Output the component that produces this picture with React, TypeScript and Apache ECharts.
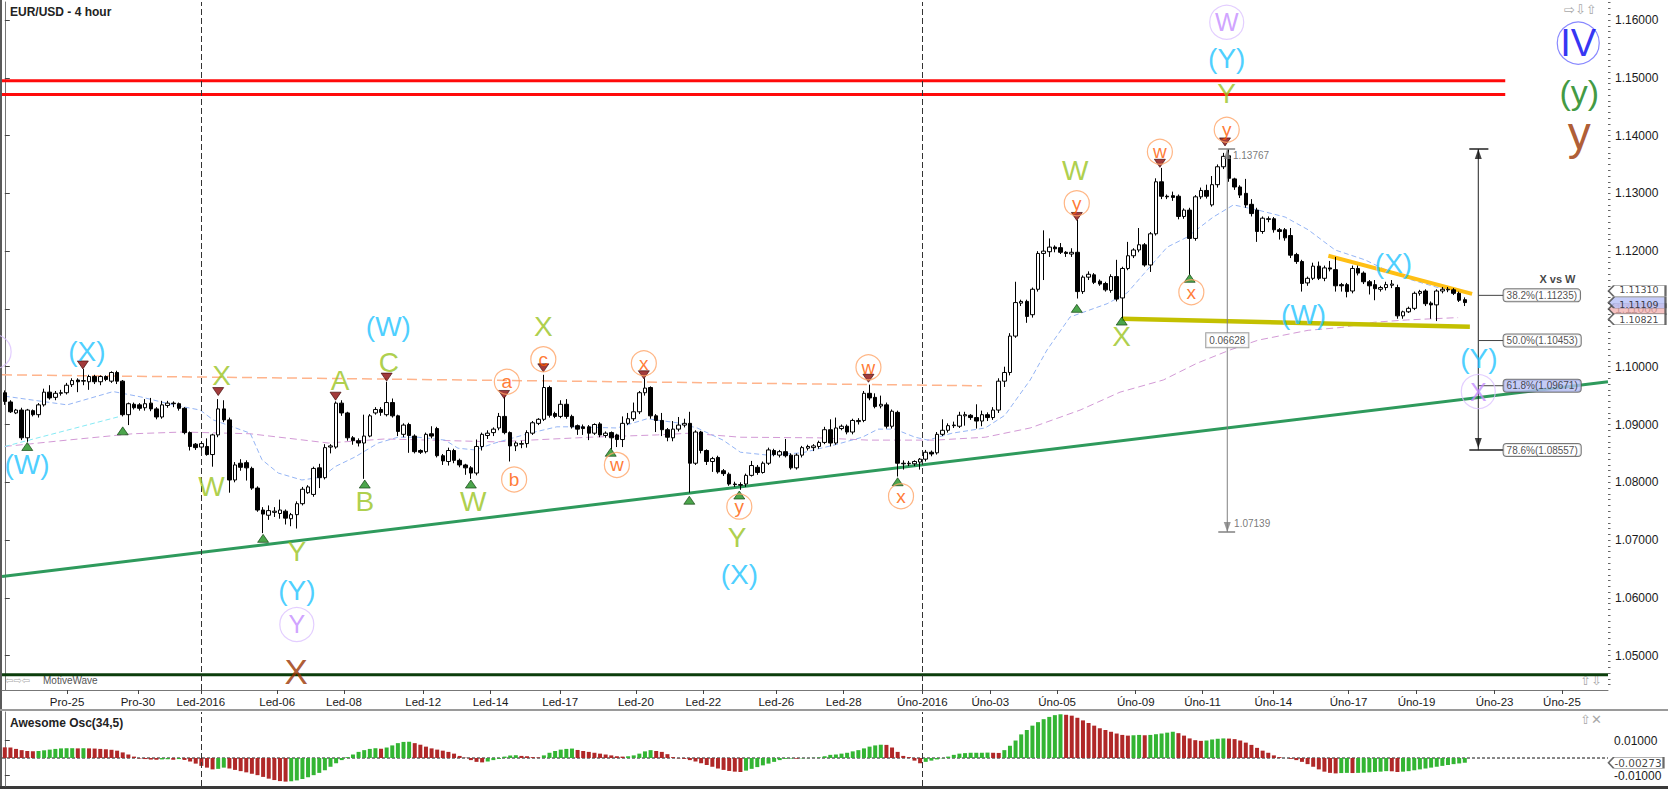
import React, { useEffect, useRef } from "react";
import * as echarts from "echarts";

// ---------- DATA ----------
// candles: [open, close, low, high], one per 4-hour bar
const candles: number[][] = [
  [1.0955, 1.0940, 1.0934, 1.0959], [1.0939, 1.0922, 1.0920, 1.0942], [1.0920, 1.0925, 1.0918, 1.0927], [1.0925, 1.0877, 1.0873, 1.0929], [1.0877, 1.0925, 1.0870, 1.0927],
  [1.0924, 1.0917, 1.0914, 1.0926], [1.0917, 1.0934, 1.0912, 1.0937], [1.0934, 1.0956, 1.0931, 1.0962], [1.0956, 1.0946, 1.0943, 1.0968], [1.0947, 1.0954, 1.0942, 1.0958],
  [1.0954, 1.0955, 1.0950, 1.0960], [1.0955, 1.0968, 1.0952, 1.0972], [1.0969, 1.0976, 1.0965, 1.0980], [1.0977, 1.0974, 1.0956, 1.0980], [1.0975, 1.0976, 1.0968, 1.0996],
  [1.0974, 1.0983, 1.0960, 1.0986], [1.0983, 1.0974, 1.0970, 1.0986], [1.0974, 1.0983, 1.0968, 1.0985], [1.0983, 1.0978, 1.0975, 1.0985], [1.0975, 1.0990, 1.0972, 1.0992],
  [1.0990, 1.0975, 1.0970, 1.0993], [1.0975, 1.0917, 1.0914, 1.0977], [1.0917, 1.0936, 1.0899, 1.0938], [1.0935, 1.0929, 1.0926, 1.0938], [1.0934, 1.0928, 1.0924, 1.0937],
  [1.0929, 1.0936, 1.0924, 1.0944], [1.0937, 1.0927, 1.0923, 1.0946], [1.0927, 1.0913, 1.0909, 1.0930], [1.0913, 1.0934, 1.0910, 1.0941], [1.0933, 1.0937, 1.0929, 1.0941],
  [1.0937, 1.0936, 1.0930, 1.0940], [1.0936, 1.0928, 1.0924, 1.0938], [1.0928, 1.0886, 1.0883, 1.0930], [1.0886, 1.0862, 1.0855, 1.0888], [1.0866, 1.0860, 1.0856, 1.0868],
  [1.0861, 1.0867, 1.0856, 1.0870], [1.0862, 1.0848, 1.0846, 1.0876], [1.0848, 1.0882, 1.0827, 1.0884], [1.0882, 1.0927, 1.0878, 1.0944], [1.0927, 1.0908, 1.0904, 1.0942],
  [1.0908, 1.0804, 1.0782, 1.0912], [1.0804, 1.0830, 1.0800, 1.0835], [1.0833, 1.0826, 1.0820, 1.0840], [1.0834, 1.0825, 1.0803, 1.0838], [1.0824, 1.0790, 1.0787, 1.0827],
  [1.0790, 1.0752, 1.0749, 1.0793], [1.0752, 1.0745, 1.0712, 1.0757], [1.0743, 1.0751, 1.0735, 1.0760], [1.0748, 1.0750, 1.0740, 1.0757], [1.0746, 1.0752, 1.0737, 1.0770],
  [1.0750, 1.0738, 1.0727, 1.0753], [1.0737, 1.0744, 1.0724, 1.0747], [1.0744, 1.0763, 1.0720, 1.0767], [1.0763, 1.0788, 1.0760, 1.0792], [1.0782, 1.0792, 1.0780, 1.0795],
  [1.0779, 1.0824, 1.0775, 1.0827], [1.0825, 1.0808, 1.0790, 1.0832], [1.0808, 1.0860, 1.0805, 1.0866], [1.0861, 1.0863, 1.0850, 1.0866], [1.0861, 1.0937, 1.0858, 1.0940],
  [1.0937, 1.0920, 1.0915, 1.0942], [1.0920, 1.0877, 1.0872, 1.0922], [1.0877, 1.0872, 1.0865, 1.0880], [1.0872, 1.0868, 1.0862, 1.0876], [1.0868, 1.0880, 1.0806, 1.0917],
  [1.0880, 1.0915, 1.0878, 1.0918], [1.0920, 1.0926, 1.0917, 1.0930], [1.0926, 1.0921, 1.0915, 1.0930], [1.0917, 1.0938, 1.0914, 1.0974], [1.0938, 1.0915, 1.0912, 1.0945],
  [1.0915, 1.0888, 1.0880, 1.0917], [1.0883, 1.0899, 1.0878, 1.0902], [1.0900, 1.0881, 1.0851, 1.0903], [1.0880, 1.0853, 1.0850, 1.0883], [1.0855, 1.0852, 1.0849, 1.0857],
  [1.0853, 1.0883, 1.0850, 1.0886], [1.0884, 1.0880, 1.0876, 1.0897], [1.0893, 1.0846, 1.0843, 1.0896], [1.0846, 1.0837, 1.0830, 1.0849], [1.0836, 1.0855, 1.0829, 1.0860],
  [1.0855, 1.0838, 1.0833, 1.0858], [1.0838, 1.0830, 1.0826, 1.0841], [1.0830, 1.0825, 1.0813, 1.0832], [1.0825, 1.0816, 1.0806, 1.0828], [1.0816, 1.0862, 1.0812, 1.0874],
  [1.0862, 1.0883, 1.0855, 1.0886], [1.0881, 1.0885, 1.0875, 1.0890], [1.0886, 1.0892, 1.0880, 1.0895], [1.0894, 1.0914, 1.0890, 1.0920], [1.0914, 1.0886, 1.0883, 1.0948],
  [1.0886, 1.0863, 1.0836, 1.0888], [1.0863, 1.0868, 1.0854, 1.0871], [1.0866, 1.0867, 1.0859, 1.0872], [1.0867, 1.0886, 1.0860, 1.0890], [1.0885, 1.0903, 1.0882, 1.0906],
  [1.0902, 1.0909, 1.0899, 1.0911], [1.0909, 1.0964, 1.0906, 1.0986], [1.0964, 1.0916, 1.0912, 1.0967], [1.0919, 1.0914, 1.0911, 1.0922], [1.0914, 1.0935, 1.0911, 1.0942],
  [1.0935, 1.0914, 1.0910, 1.0944], [1.0914, 1.0896, 1.0893, 1.0917], [1.0898, 1.0892, 1.0882, 1.0900], [1.0896, 1.0893, 1.0882, 1.0900], [1.0896, 1.0885, 1.0873, 1.0899],
  [1.0885, 1.0900, 1.0882, 1.0902], [1.0901, 1.0882, 1.0878, 1.0904], [1.0881, 1.0885, 1.0877, 1.0888], [1.0886, 1.0877, 1.0857, 1.0888], [1.0882, 1.0874, 1.0861, 1.0884],
  [1.0874, 1.0902, 1.0861, 1.0914], [1.0902, 1.0910, 1.0899, 1.0920], [1.0910, 1.0922, 1.0906, 1.0938], [1.0922, 1.0955, 1.0918, 1.0958], [1.0955, 1.0963, 1.0950, 1.0980],
  [1.0964, 1.0915, 1.0910, 1.0966], [1.0915, 1.0907, 1.0887, 1.0918], [1.0907, 1.0891, 1.0880, 1.0920], [1.0891, 1.0878, 1.0871, 1.0894], [1.0877, 1.0892, 1.0871, 1.0906],
  [1.0892, 1.0899, 1.0888, 1.0913], [1.0899, 1.0902, 1.0895, 1.0910], [1.0902, 1.0833, 1.0782, 1.0922], [1.0833, 1.0887, 1.0830, 1.0890], [1.0887, 1.0855, 1.0850, 1.0889],
  [1.0855, 1.0836, 1.0830, 1.0857], [1.0836, 1.0841, 1.0818, 1.0844], [1.0843, 1.0818, 1.0815, 1.0846], [1.0820, 1.0815, 1.0811, 1.0823], [1.0814, 1.0797, 1.0794, 1.0817],
  [1.0797, 1.0796, 1.0792, 1.0801], [1.0796, 1.0795, 1.0787, 1.0800], [1.0797, 1.0812, 1.0792, 1.0815], [1.0812, 1.0829, 1.0810, 1.0837], [1.0826, 1.0817, 1.0813, 1.0830],
  [1.0817, 1.0833, 1.0815, 1.0836], [1.0833, 1.0856, 1.0830, 1.0860], [1.0855, 1.0848, 1.0845, 1.0858], [1.0847, 1.0853, 1.0843, 1.0856], [1.0853, 1.0846, 1.0843, 1.0875],
  [1.0847, 1.0825, 1.0822, 1.0850], [1.0825, 1.0847, 1.0822, 1.0850], [1.0847, 1.0860, 1.0843, 1.0863], [1.0859, 1.0862, 1.0855, 1.0865], [1.0860, 1.0863, 1.0854, 1.0866],
  [1.0862, 1.0869, 1.0858, 1.0872], [1.0869, 1.0891, 1.0866, 1.0896], [1.0891, 1.0868, 1.0862, 1.0909], [1.0868, 1.0894, 1.0865, 1.0912], [1.0893, 1.0897, 1.0890, 1.0900],
  [1.0897, 1.0887, 1.0883, 1.0900], [1.0887, 1.0907, 1.0883, 1.0910], [1.0905, 1.0907, 1.0900, 1.0911], [1.0907, 1.0954, 1.0904, 1.0958], [1.0954, 1.0946, 1.0942, 1.0969],
  [1.0947, 1.0931, 1.0928, 1.0954], [1.0932, 1.0935, 1.0928, 1.0950], [1.0934, 1.0897, 1.0893, 1.0938], [1.0897, 1.0923, 1.0893, 1.0926], [1.0921, 1.0833, 1.0810, 1.0924],
  [1.0833, 1.0832, 1.0822, 1.0838], [1.0832, 1.0833, 1.0828, 1.0837], [1.0832, 1.0836, 1.0828, 1.0838], [1.0835, 1.0840, 1.0822, 1.0842], [1.0840, 1.0852, 1.0836, 1.0856],
  [1.0852, 1.0849, 1.0845, 1.0855], [1.0851, 1.0883, 1.0848, 1.0887], [1.0883, 1.0890, 1.0880, 1.0909], [1.0890, 1.0898, 1.0886, 1.0902], [1.0898, 1.0899, 1.0894, 1.0905],
  [1.0897, 1.0916, 1.0894, 1.0922], [1.0915, 1.0917, 1.0898, 1.0922], [1.0916, 1.0912, 1.0908, 1.0918], [1.0912, 1.0906, 1.0893, 1.0935], [1.0906, 1.0917, 1.0897, 1.0924],
  [1.0917, 1.0912, 1.0906, 1.0921], [1.0912, 1.0925, 1.0908, 1.0930], [1.0925, 1.0975, 1.0920, 1.0980], [1.0975, 1.0990, 1.0965, 1.1000], [1.0990, 1.1053, 1.0985, 1.1058],
  [1.1053, 1.1111, 1.1050, 1.1147], [1.1110, 1.1113, 1.1105, 1.1116], [1.1113, 1.1087, 1.1076, 1.1116], [1.1090, 1.1134, 1.1085, 1.1137], [1.1134, 1.1196, 1.1130, 1.1200],
  [1.1196, 1.1200, 1.1150, 1.1236], [1.1199, 1.1207, 1.1190, 1.1222], [1.1207, 1.1204, 1.1198, 1.1210], [1.1206, 1.1198, 1.1195, 1.1214], [1.1198, 1.1196, 1.1190, 1.1200],
  [1.1195, 1.1198, 1.1190, 1.1205], [1.1198, 1.1130, 1.1118, 1.1254], [1.1130, 1.1155, 1.1126, 1.1158], [1.1155, 1.1160, 1.1150, 1.1165], [1.1159, 1.1146, 1.1143, 1.1162],
  [1.1148, 1.1143, 1.1140, 1.1151], [1.1144, 1.1133, 1.1130, 1.1147], [1.1132, 1.1156, 1.1128, 1.1160], [1.1156, 1.1117, 1.1113, 1.1185], [1.1119, 1.1170, 1.1084, 1.1173],
  [1.1170, 1.1192, 1.1167, 1.1216], [1.1192, 1.1202, 1.1188, 1.1205], [1.1202, 1.1211, 1.1198, 1.1240], [1.1211, 1.1176, 1.1173, 1.1214], [1.1176, 1.1230, 1.1164, 1.1233],
  [1.1230, 1.1320, 1.1227, 1.1326], [1.1320, 1.1295, 1.1290, 1.1344], [1.1295, 1.1294, 1.1290, 1.1298], [1.1296, 1.1293, 1.1287, 1.1303], [1.1295, 1.1260, 1.1255, 1.1298],
  [1.1260, 1.1271, 1.1256, 1.1274], [1.1271, 1.1222, 1.1159, 1.1275], [1.1222, 1.1294, 1.1218, 1.1297], [1.1294, 1.1305, 1.1290, 1.1310], [1.1305, 1.1295, 1.1291, 1.1315],
  [1.1280, 1.1315, 1.1277, 1.1330], [1.1315, 1.1346, 1.1310, 1.1350], [1.1346, 1.1364, 1.1342, 1.1370], [1.1365, 1.1326, 1.1320, 1.13767], [1.1325, 1.1311, 1.1306, 1.1327],
  [1.1311, 1.1297, 1.1292, 1.1314], [1.1300, 1.1280, 1.1275, 1.1325], [1.1281, 1.1265, 1.1260, 1.1290], [1.1271, 1.1234, 1.1216, 1.1275], [1.1234, 1.1257, 1.1230, 1.1260],
  [1.1256, 1.1255, 1.1250, 1.1260], [1.1256, 1.1237, 1.1232, 1.1259], [1.1237, 1.1234, 1.1220, 1.1240], [1.1237, 1.1223, 1.1218, 1.1240], [1.1227, 1.1193, 1.1188, 1.1240],
  [1.1194, 1.1182, 1.1178, 1.1197], [1.1182, 1.1144, 1.1130, 1.1185], [1.1145, 1.1153, 1.1140, 1.1156], [1.1153, 1.1174, 1.1150, 1.1180], [1.1174, 1.1153, 1.1150, 1.1182],
  [1.1153, 1.1171, 1.1148, 1.1175], [1.1171, 1.1169, 1.1165, 1.1183], [1.1168, 1.1140, 1.1130, 1.1190], [1.1142, 1.1140, 1.1130, 1.1145], [1.1142, 1.1130, 1.1120, 1.1145],
  [1.1131, 1.1170, 1.1127, 1.1175], [1.1170, 1.1162, 1.1158, 1.1175], [1.1162, 1.1147, 1.1143, 1.1165], [1.1147, 1.1140, 1.1125, 1.1150], [1.1142, 1.1135, 1.1115, 1.1150],
  [1.1134, 1.1137, 1.1130, 1.1140], [1.1137, 1.1142, 1.1132, 1.1147], [1.1141, 1.1143, 1.1136, 1.1150], [1.1137, 1.1088, 1.1083, 1.1142], [1.1088, 1.1095, 1.1083, 1.1097],
  [1.1095, 1.1101, 1.1093, 1.1104], [1.1101, 1.1127, 1.1098, 1.1130], [1.1127, 1.1130, 1.1123, 1.1133], [1.1131, 1.1109, 1.1105, 1.1134], [1.1110, 1.1107, 1.1083, 1.1113],
  [1.1107, 1.1131, 1.1079, 1.1134], [1.1131, 1.1134, 1.1127, 1.1138], [1.1133, 1.1134, 1.1129, 1.1138], [1.1133, 1.1127, 1.1124, 1.1136], [1.1127, 1.1115, 1.1112, 1.1130],
  [1.1116, 1.1111, 1.1105, 1.1120],
];

// Awesome Oscillator (34,5), one value per bar
const aoValues: number[] = [
  0.0061, 0.0060, 0.0052, 0.0045, 0.0040, 0.0038, 0.0040, 0.0044, 0.0048, 0.0052,
  0.0055, 0.0056, 0.0056, 0.0055, 0.0056, 0.0055, 0.0054, 0.0052, 0.0050, 0.0047,
  0.0042, 0.0032, 0.0020, 0.0008, -0.0003, -0.0006, -0.0009, -0.0010, -0.0008, -0.0007,
  -0.0010, -0.0006, -0.0011, -0.0020, -0.0032, -0.0045, -0.0055, -0.0065, -0.0062, -0.0055,
  -0.0060, -0.0068, -0.0075, -0.0082, -0.0090, -0.0098, -0.0108, -0.0118, -0.0126, -0.0132,
  -0.0135, -0.0133, -0.0128, -0.0120, -0.0110, -0.0098, -0.0085, -0.0070, -0.0050, -0.0030,
  -0.0012, 0.0005, 0.0020, 0.0035, 0.0045, 0.0052, 0.0056, 0.0053, 0.0060, 0.0072,
  0.0085, 0.0092, 0.0093, 0.0085, 0.0076, 0.0065, 0.0055, 0.0048, 0.0042, 0.0035,
  0.0025, 0.0012, 0.0002, -0.0012, -0.0022, -0.0025, -0.0020, -0.0012, -0.0005, 0.0008,
  0.0015, 0.0016, 0.0012, 0.0010, 0.0005, 0.0003, 0.0015, 0.0030, 0.0040, 0.0048,
  0.0052, 0.0054, 0.0046, 0.0040, 0.0035, 0.0030, 0.0025, 0.0020, 0.0015, 0.0010,
  0.0008, 0.0010, 0.0015, 0.0025, 0.0038, 0.0045, 0.0040, 0.0035, 0.0022, 0.0005,
  -0.0002, -0.0005, -0.0012, -0.0020, -0.0030, -0.0040, -0.0050, -0.0060, -0.0068, -0.0074,
  -0.0078, -0.0080, -0.0072, -0.0062, -0.0052, -0.0042, -0.0032, -0.0022, -0.0012, -0.0005,
  -0.0003, -0.0004, -0.0002, -0.0001, 0.0001, 0.0003, 0.0010, 0.0018, 0.0020, 0.0025,
  0.0030, 0.0038, 0.0045, 0.0055, 0.0065, 0.0072, 0.0076, 0.0075, 0.0060, 0.0035,
  0.0012, 0.0005, -0.0015, -0.0030, -0.0022, -0.0015, -0.0008, -0.0002, 0.0008, 0.0018,
  0.0025, 0.0028, 0.0030, 0.0030, 0.0030, 0.0031, 0.0030, 0.0029, 0.0045, 0.0070,
  0.0100, 0.0135, 0.0160, 0.0185, 0.0205, 0.0222, 0.0235, 0.0245, 0.0250, 0.0247,
  0.0242, 0.0230, 0.0215, 0.0200, 0.0185, 0.0170, 0.0160, 0.0150, 0.0140, 0.0132,
  0.0128, 0.0130, 0.0132, 0.0130, 0.0132, 0.0136, 0.0140, 0.0145, 0.0150, 0.0142,
  0.0128, 0.0112, 0.0102, 0.0098, 0.0100, 0.0106, 0.0110, 0.0112, 0.0111, 0.0108,
  0.0100, 0.0088, 0.0075, 0.0058, 0.0042, 0.0030, 0.0015, 0.0005, 0.0000, -0.0005,
  -0.0012, -0.0022, -0.0035, -0.0050, -0.0065, -0.0078, -0.0085, -0.0088, -0.0086, -0.0085,
  -0.0086, -0.0085, -0.0084, -0.0082, -0.0080, -0.0078, -0.0075, -0.0076, -0.0080, -0.0078,
  -0.0075, -0.0070, -0.0065, -0.0060, -0.0055, -0.0050, -0.0045, -0.0040, -0.0035, -0.0031,
  -0.0027,
];

// date tick labels: [bar position, label]
const dateTicks: [number, string][] = [
  [11.1, "Pro-25"], [23.7, "Pro-30"], [34.9, "Led-2016"], [48.5, "Led-06"], [60.4, "Led-08"],
  [74.5, "Led-12"], [86.5, "Led-14"], [98.9, "Led-17"], [112.4, "Led-20"], [124.4, "Led-22"],
  [137.4, "Led-26"], [149.4, "Led-28"], [163.4, "Úno-2016"], [175.5, "Úno-03"], [187.4, "Úno-05"],
  [201.4, "Úno-09"], [213.3, "Úno-11"], [225.9, "Úno-14"], [239.3, "Úno-17"], [251.4, "Úno-19"],
  [265.3, "Úno-23"], [277.3, "Úno-25"],
];
const monthLines = [34.9, 163.4];
const priceTicks = [1.05, 1.06, 1.07, 1.08, 1.09, 1.1, 1.11, 1.12, 1.13, 1.14, 1.15, 1.16];
const oscTicks = [0.01, -0.01];

// moving averages: [bar position, price]
const blueMA: number[][] = [
  [0, 1.0949], [11.1, 1.0934], [19.3, 1.0957], [24.1, 1.0948], [30, 1.0934], [34.8, 1.0925], [37.1, 1.0908],
  [43.7, 1.0885], [45.8, 1.0839], [48.7, 1.0816], [52.9, 1.0804], [56.5, 1.0809], [58.8, 1.0827], [62.4, 1.0844],
  [66.5, 1.0868], [70, 1.0878], [73.6, 1.0878], [78.4, 1.0873], [80.7, 1.0859], [83.7, 1.0856], [87.3, 1.0868],
  [93.5, 1.0885], [98.3, 1.0896], [101.2, 1.0896], [109, 1.0894], [114.4, 1.0910], [119.7, 1.0903], [123.3, 1.0894],
  [127.9, 1.0873], [131, 1.0852], [135.9, 1.0847], [142, 1.0851], [147.9, 1.0865], [152.7, 1.0878], [155.5, 1.0892],
  [158.5, 1.0892], [162.1, 1.0878], [164.4, 1.0873], [168.7, 1.0885], [174.6, 1.0894], [178.1, 1.0916], [182.6, 1.0977],
  [185.6, 1.1029], [189.7, 1.1086], [196.3, 1.1109], [199.9, 1.1128], [203.4, 1.1167], [207, 1.1207], [210.5, 1.1224],
  [215.2, 1.1259], [218.8, 1.1280], [223.2, 1.1271], [228, 1.1259], [232.1, 1.1237], [236.9, 1.1202], [242.2, 1.1185],
  [247.1, 1.1162], [250.6, 1.1150], [255.2, 1.1137], [258.8, 1.1133],
];
const purpleMA: number[][] = [
  [0, 1.0862], [11.1, 1.0873], [22.8, 1.0884], [31.7, 1.0887], [43.7, 1.0884], [57.6, 1.0868], [67.7, 1.0875],
  [87.3, 1.0870], [93.5, 1.0873], [104.2, 1.0878], [116.2, 1.0882], [122, 1.0885], [131, 1.0878], [144.8, 1.0877],
  [153.7, 1.0873], [165.7, 1.0873], [174.6, 1.0878], [182.6, 1.0894], [191.5, 1.0925], [198.6, 1.0956], [206.3, 1.0977],
  [212.3, 1.1006], [218.2, 1.1029], [223.2, 1.1046], [232.1, 1.1063], [238.1, 1.1068], [243.9, 1.1077], [249.8, 1.1081],
  [258.8, 1.1085],
];
const cyanLine: number[][] = [[0, 1.0862], [20.5, 1.0914]];
const orangeDashed: number[][] = [[-0.5, 1.0986], [174, 1.0967]];
const greenTrend: number[][] = [[-0.5, 1.0637], [285.5, 1.0974]];
const darkGreenLevel: number[][] = [[-0.5, 1.0467], [285.5, 1.0467]];
const redLevelA: number[][] = [[-0.5, 1.1495], [267.2, 1.1495]];
const redLevelB: number[][] = [[-0.5, 1.1471], [267.2, 1.1471]];
const supportLine: number[][] = [[198.9, 1.1083], [260.9, 1.1069]];
const resistanceLine: number[][] = [[235.7, 1.1192], [261.3, 1.1126]];

// Fibonacci "X vs W" projection
const fibX = 262.4;
const fibTop = 1.13767;
const fibBottom = 1.08557;
const fibLevels = [
  { pct: "38.2%", value: 1.11235, hi: false },
  { pct: "50.0%", value: 1.10453, hi: false },
  { pct: "61.8%", value: 1.09671, hi: true },
  { pct: "78.6%", value: 1.08557, hi: false },
];
// price measure tool
const measureX = 217.7;
const measureTop = 1.13767;
const measureBottom = 1.07139;
const measureDiff = "0.06628";

// swing markers
const downTriangles: number[][] = [
  [13.9, 1.1003], [38.0, 1.0957], [58.9, 1.0949], [68.0, 1.0982], [88.9, 1.0952], [95.9, 1.0998],
  [113.8, 1.0986], [153.8, 1.0980], [190.9, 1.1260], [205.7, 1.1352], [217.3, 1.1389],
];
const upTriangles: number[][] = [
  [4.0, 1.0862], [21.0, 1.0889], [46.0, 1.0703], [64.1, 1.0797], [83.0, 1.0797], [107.9, 1.0852],
  [121.9, 1.0769], [130.8, 1.0778], [159.0, 1.0801], [190.9, 1.1101], [198.9, 1.1079], [211.0, 1.1153],
];

// Elliott wave labels
const waveLabels = [
  { v: -1.9, p: 1.1026, t: "", k: "purple" },
  { v: 14.6, p: 1.1026, t: "(X)", k: "cyan" }, { v: 3.95, p: 1.0830, t: "(W)", k: "cyan" },
  { v: 38.6, p: 1.0984, t: "X", k: "green" }, { v: 36.8, p: 1.0793, t: "W", k: "green" },
  { v: 59.7, p: 1.0977, t: "A", k: "green" }, { v: 68.3, p: 1.1069, t: "(W)", k: "cyan" },
  { v: 68.4, p: 1.1007, t: "C", k: "green" }, { v: 64.1, p: 1.0767, t: "B", k: "green" },
  { v: 83.4, p: 1.0767, t: "W", k: "green" }, { v: 52, p: 1.0680, t: "Y", k: "green" },
  { v: 52, p: 1.0613, t: "(Y)", k: "cyan" }, { v: 52, p: 1.0554, t: "Y", k: "purple" },
  { v: 51.9, p: 1.0472, t: "X", k: "brown" }, { v: 95.9, p: 1.1069, t: "X", k: "green" },
  { v: 95.9, p: 1.1013, t: "c", k: "orange" }, { v: 89.4, p: 1.0974, t: "a", k: "orange" },
  { v: 90.7, p: 1.0805, t: "b", k: "orange" }, { v: 109, p: 1.0830, t: "w", k: "orange" },
  { v: 113.8, p: 1.1006, t: "x", k: "orange" }, { v: 130.8, p: 1.0758, t: "y", k: "orange" },
  { v: 130.4, p: 1.0705, t: "Y", k: "green" }, { v: 130.8, p: 1.0641, t: "(X)", k: "cyan" },
  { v: 153.8, p: 1.0999, t: "w", k: "orange" }, { v: 159.6, p: 1.0776, t: "x", k: "orange" },
  { v: 190.6, p: 1.1340, t: "W", k: "green" }, { v: 190.9, p: 1.1283, t: "y", k: "orange" },
  { v: 198.9, p: 1.1052, t: "X", k: "green" }, { v: 205.7, p: 1.1372, t: "w", k: "orange" },
  { v: 211.3, p: 1.1129, t: "x", k: "orange" }, { v: 217.6, p: 1.1410, t: "y", k: "orange" },
  { v: 217.6, p: 1.1473, t: "Y", k: "green" }, { v: 217.6, p: 1.1534, t: "(Y)", k: "cyan" },
  { v: 217.6, p: 1.1596, t: "W", k: "purple" }, { v: 247.3, p: 1.1179, t: "(X)", k: "cyan" },
  { v: 231.3, p: 1.1090, t: "(W)", k: "cyan" }, { v: 262.5, p: 1.1015, t: "(Y)", k: "cyan" },
  { v: 262.4, p: 1.0957, t: "X", k: "purple" },
  { v: 280.2, p: 1.1560, t: "IV", k: "blueBig" }, { v: 280.4, p: 1.1476, t: "(y)", k: "greenBig" },
  { v: 280.4, p: 1.1405, t: "y", k: "brownBig" },
];

// value tags on the price axis
const priceTags = [
  { p: 1.1100, t: "", fill: "#f3b3b3", color: "#8a1a1a", dy: 0 },
  { p: 1.10821, t: "1.10821", fill: "#ffffff", color: "#111", dy: 0 },
  { p: 1.1131, t: "1.11310", fill: "#ffffff", color: "#111", dy: -1.5 },
  { p: 1.11109, t: "1.11109", fill: "#b7bff6", color: "#111", dy: 1.5 },
];
const oscTag = { v: -0.00273, t: "-0.00273" };

// ---------- STYLES ----------
const FONT = "Liberation Sans, Arial, sans-serif";
const kindStyles: Record<string, any> = {
  cyan: { color: "#1ec3ff", size: 28 },
  green: { color: "#99c31d", size: 28 },
  orange: { color: "#ff5a00", size: 19, r: 12.5, stroke: "#ffa466" },
  purple: { color: "#c48cff", size: 25, r: 17, stroke: "#dcc2ff" },
  brown: { color: "#993300", size: 35 },
  blueBig: { color: "#0000f0", size: 38, r: 21, stroke: "#6a6aff" },
  greenBig: { color: "#0f7f0f", size: 34 },
  brownBig: { color: "#9a3300", size: 46 },
};

const segLine = (pts: number[][], color: string, width: number, type: any = "solid", z = 2, extra: any = {}) => ({
  type: "line",
  xAxisIndex: 1,
  yAxisIndex: 0,
  data: pts,
  showSymbol: false,
  symbol: "none",
  silent: true,
  z,
  lineStyle: { color, width, type },
  ...extra,
});

export default function App() {
  const ref = useRef<HTMLDivElement>(null);

  useEffect(() => {
    if (!ref.current) return;
    const chart = echarts.init(ref.current, undefined, { renderer: "svg" });

    const categories = Array.from({ length: 286 }, (_, i) => String(i));
    const minorTicks: number[] = [];
    for (let k = 1045; k <= 1163; k++) minorTicks.push(k / 1000);
    const tickMap = new Map(dateTicks.map(([v, s]) => [v.toFixed(1), s]));

    const labelItems = waveLabels.map((l) => {
      const s = kindStyles[l.k];
      return {
        value: [l.v, l.p],
        symbol: "circle",
        symbolSize: s.r ? s.r * 2 : 1,
        itemStyle: s.r
          ? { color: "rgba(255,255,255,0)", borderColor: s.stroke, borderWidth: 1.2 }
          : { color: "rgba(0,0,0,0)" },
        label: {
          show: l.t !== "",
          position: "inside",
          formatter: l.t,
          color: s.color,
          fontSize: s.size,
          fontFamily: FONT,
        },
      };
    });

    const boxLabel = (fill: string) => ({
      backgroundColor: fill,
      borderColor: "#555",
      borderWidth: 1,
      borderRadius: 3,
      padding: [1, 3, 0, 3],
      lineHeight: 11,
      fontSize: 10,
      fontFamily: FONT,
      color: "#222",
    });

    const fibTextItems: any[] = fibLevels.map((f) => ({
      value: [fibX + 4.5, f.value],
      label: {
        show: true,
        position: "right",
        distance: 0,
        formatter: `${f.pct}(${f.value.toFixed(5)})`,
        ...boxLabel(f.hi ? "#b7bff6" : "#ffffff"),
      },
    }));
    fibTextItems.push({
      value: [276.5, 1.11523],
      label: { show: true, position: "inside", formatter: "X vs W", fontSize: 11, fontWeight: "bold", color: "#111", fontFamily: FONT },
    });
    fibTextItems.push({
      value: [218.7, 1.1365],
      label: { show: true, position: "right", distance: 0, formatter: measureTop.toFixed(5), fontSize: 10, color: "#555", fontFamily: FONT },
    });
    fibTextItems.push({
      value: [218.9, 1.0728],
      label: { show: true, position: "right", distance: 0, formatter: measureBottom.toFixed(5), fontSize: 10, color: "#555", fontFamily: FONT },
    });
    fibTextItems.push({
      value: [measureX, 1.1046],
      label: { show: true, position: "inside", formatter: measureDiff, ...boxLabel("#ffffff"), borderColor: "#888", borderRadius: 0, padding: [2, 3, 1, 3] },
    });

    const tagSymbol = "path://M0,5.5 L5.5,0 L58,0 L58,11 L5.5,11 Z";
    const tagItems = priceTags.map((t) => ({
      value: [285.5, t.p],
      itemStyle: { color: t.fill, borderColor: "#444", borderWidth: 1 },
      label: { show: t.t !== "", position: "inside", offset: [2, t.dy], formatter: t.t, color: t.color, fontSize: 9.5, lineHeight: 9, fontFamily: "DejaVu Sans, sans-serif" },
    }));

    const monthMarkLine = {
      silent: true,
      symbol: ["none", "none"],
      label: { show: false },
      lineStyle: { color: "#333", type: [6, 3], width: 1 },
      data: monthLines.map((v) => ({ xAxis: v })),
    };

    const aoGreen = "#33b533";
    const aoRed = "#b02828";

    const option: any = {
      animation: false,
      backgroundColor: "#ffffff",
      grid: [
        { left: 2, right: 60, top: 2, height: 688, containLabel: false },
        { left: 2, right: 60, top: 712, height: 74, containLabel: false },
      ],
      xAxis: [
        { type: "category", gridIndex: 0, data: categories, show: false, position: "top", boundaryGap: true },
        {
          type: "value", gridIndex: 0, min: -0.5, max: 285.5, position: "bottom",
          splitLine: { show: false },
          axisLine: { show: true, lineStyle: { color: "#777", width: 1 } },
          axisTick: { show: true, customValues: dateTicks.map((d) => d[0]), length: 4, lineStyle: { color: "#444" } },
          axisLabel: {
            show: true, customValues: dateTicks.map((d) => d[0]), margin: 6,
            formatter: (v: number) => tickMap.get(v.toFixed(1)) || "",
            color: "#1a1a1a", fontSize: 11.5, fontFamily: FONT,
          },
        },
        { type: "category", gridIndex: 1, data: categories, show: false, position: "top", boundaryGap: true },
        { type: "value", gridIndex: 1, min: -0.5, max: 285.5, show: false, position: "bottom" },
      ],
      yAxis: [
        {
          type: "value", gridIndex: 0, position: "right", min: 1.04406, max: 1.16311, scale: true,
          splitLine: { show: false },
          axisLine: { show: true, lineStyle: { color: "#777", width: 1 } },
          axisTick: { show: true, customValues: priceTicks, length: 5, lineStyle: { color: "#444" } },
          axisLabel: {
            show: true, customValues: priceTicks, margin: 7,
            formatter: (v: number) => v.toFixed(5), color: "#1a1a1a", fontSize: 12, fontFamily: FONT,
          },
        },
        {
          type: "value", gridIndex: 0, position: "right", min: 1.04406, max: 1.16311, scale: true,
          splitLine: { show: false },
          axisLine: { show: false },
          axisTick: { show: true, customValues: minorTicks, length: 2.5, lineStyle: { color: "#666" } },
          axisLabel: { show: false },
        },
        {
          type: "value", gridIndex: 1, position: "right", min: -0.016, max: 0.0263, scale: true,
          splitLine: { show: false },
          axisLine: { show: true, lineStyle: { color: "#777", width: 1 } },
          axisTick: { show: true, customValues: oscTicks, length: 5, lineStyle: { color: "#444" } },
          axisLabel: {
            show: true, customValues: oscTicks, margin: 6,
            formatter: (v: number) => v.toFixed(5), color: "#1a1a1a", fontSize: 12, fontFamily: FONT,
          },
        },
      ],
      series: [
        segLine(purpleMA, "#d39ad6", 1, [7, 4], 2),
        segLine(blueMA, "#95b5f5", 1, [5, 3], 2),
        segLine(cyanLine, "#86eaf5", 1, [5, 3], 2),
        segLine(orangeDashed, "#ffb48c", 1.5, [10, 5], 2),
        segLine(greenTrend, "#2e9a5c", 3, "solid", 3, { markLine: monthMarkLine }),
        segLine(darkGreenLevel, "#0b3d0b", 3, "solid", 3),
        segLine(redLevelA, "#ff0a0a", 3, "solid", 3),
        segLine(redLevelB, "#ff0a0a", 3, "solid", 3),
        segLine(supportLine, "#c3c000", 4.5, "solid", 3),
        segLine(resistanceLine, "#ffbf14", 4, "solid", 3),
        {
          type: "candlestick",
          xAxisIndex: 0,
          yAxisIndex: 0,
          data: candles,
          barWidth: 4,
          silent: true,
          z: 5,
          itemStyle: { color: "#ffffff", color0: "#000000", borderColor: "#000000", borderColor0: "#000000", borderWidth: 1 },
        },
        // fib projection tool
        segLine([[fibX, fibTop], [fibX, fibBottom]], "#222", 1, "solid", 6),
        segLine([[fibX - 1.6, fibTop], [fibX + 1.8, fibTop]], "#222", 1.5, "solid", 6),
        segLine([[fibX - 1.6, fibBottom], [fibX + 4.5, fibBottom]], "#222", 1.5, "solid", 6),
        ...fibLevels.slice(0, 3).map((f) => segLine([[fibX, f.value], [fibX + 4.5, f.value]], "#444", 1, "solid", 6)),
        // measure tool
        segLine([[measureX, measureTop], [measureX, measureBottom]], "#808080", 1, "solid", 6),
        segLine([[measureX - 1.6, measureTop], [measureX + 1.4, measureTop]], "#808080", 1.5, "solid", 6),
        segLine([[measureX - 1.6, measureBottom], [measureX + 1.4, measureBottom]], "#808080", 1.5, "solid", 6),
        {
          type: "scatter", xAxisIndex: 1, yAxisIndex: 0, silent: true, z: 7, clip: false,
          symbol: "triangle", symbolSize: [7, 10],
          data: [
            { value: [fibX, 1.13681], itemStyle: { color: "#111" } },
            { value: [fibX, 1.08681], symbolRotate: 180, itemStyle: { color: "#111" } },
            { value: [measureX, 1.13681], itemStyle: { color: "#808080" } },
            { value: [measureX, 1.07227], symbolRotate: 180, itemStyle: { color: "#808080" } },
          ],
        },
        {
          type: "scatter", xAxisIndex: 1, yAxisIndex: 0, silent: true, z: 8, clip: false,
          symbol: "triangle", symbolSize: [11, 8], symbolRotate: 180,
          itemStyle: { color: "#8b0a0a", borderColor: "#3a0000", borderWidth: 0.8 },
          data: downTriangles,
        },
        {
          type: "scatter", xAxisIndex: 1, yAxisIndex: 0, silent: true, z: 8, clip: false,
          symbol: "triangle", symbolSize: [11, 8],
          itemStyle: { color: "#1f8f1f", borderColor: "#0a3a0a", borderWidth: 0.8 },
          data: upTriangles,
        },
        {
          type: "scatter", xAxisIndex: 1, yAxisIndex: 0, silent: true, z: 10, clip: false,
          data: labelItems,
        },
        {
          type: "scatter", xAxisIndex: 1, yAxisIndex: 0, silent: true, z: 11, clip: false,
          symbolSize: 0.1, itemStyle: { color: "rgba(0,0,0,0)" },
          data: fibTextItems,
        },
        {
          type: "scatter", xAxisIndex: 1, yAxisIndex: 0, silent: true, z: 12, clip: false,
          symbol: tagSymbol, symbolSize: [57, 11], symbolOffset: [29, 0], symbolKeepAspect: false,
          data: tagItems,
        },
        // oscillator
        segLine([[-0.5, 0], [285.5, 0]], "#111", 1, [3, 2], 1, { xAxisIndex: 3, yAxisIndex: 2, markLine: monthMarkLine }),
        {
          type: "bar",
          xAxisIndex: 2,
          yAxisIndex: 2,
          barWidth: 4,
          silent: true,
          z: 2,
          data: aoValues.map((v, i) => ({
            value: v,
            itemStyle: { color: i > 0 && v >= aoValues[i - 1] ? aoGreen : aoRed },
          })),
        },
        {
          type: "scatter", xAxisIndex: 3, yAxisIndex: 2, silent: true, z: 12, clip: false,
          symbol: tagSymbol, symbolSize: [55, 11], symbolOffset: [28, 0], symbolKeepAspect: false,
          data: [{
            value: [285.5, oscTag.v],
            itemStyle: { color: "#ffffff", borderColor: "#444", borderWidth: 1 },
            label: { show: true, position: "inside", offset: [2, 0], formatter: oscTag.t, color: "#111", fontSize: 10.5, lineHeight: 10, fontFamily: "DejaVu Sans, sans-serif" },
          }],
        },
      ],
      graphic: [
        { type: "rect", shape: { x: 0, y: 0, width: 2, height: 789 }, style: { fill: "#5a5a5a" }, silent: true },
        { type: "rect", shape: { x: 0, y: 709, width: 1668, height: 2 }, style: { fill: "#9a9a9a" }, silent: true },
        { type: "rect", shape: { x: 0, y: 786, width: 1668, height: 3 }, style: { fill: "#3a3a3a" }, silent: true },
        { type: "text", x: 10, y: 6, style: { text: "EUR/USD - 4 hour", fontSize: 12, fontWeight: "bold", fill: "#222", font: `bold 12px ${FONT}` }, silent: true },
        { type: "text", x: 10, y: 717, style: { text: "Awesome Osc(34,5)", fontSize: 12, fontWeight: "bold", fill: "#222", font: `bold 12px ${FONT}` }, silent: true },
        { type: "text", x: 1564, y: 3, style: { text: "⇨⇩⇧", font: "13px DejaVu Sans, sans-serif", fill: "#a8a8a8" }, silent: true },
        { type: "text", x: 1580, y: 674, style: { text: "⇧⇩", font: "13px DejaVu Sans, sans-serif", fill: "#a8a8a8" }, silent: true },
        { type: "text", x: 1580, y: 713, style: { text: "⇧✕", font: "13px DejaVu Sans, sans-serif", fill: "#a8a8a8" }, silent: true },
        { type: "text", x: 5, y: 675, style: { text: "⇦⇨⇦", font: "10px DejaVu Sans, sans-serif", fill: "#aaa" }, silent: true },
        { type: "text", x: 43, y: 675, style: { text: "MotiveWave", font: `10px ${FONT}`, fill: "#555" }, silent: true },
      ],
    };

    chart.setOption(option);
    return () => chart.dispose();
  }, []);

  return (
    <div
      ref={ref}
      style={{ position: "fixed", left: 0, top: 0, width: 1668, height: 789, background: "#fff" }}
    />
  );
}
